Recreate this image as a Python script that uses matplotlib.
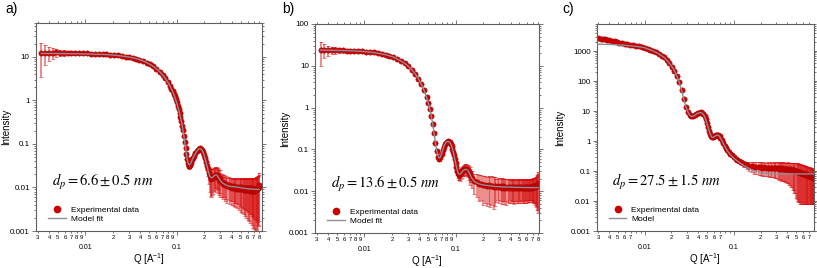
import numpy as np
import matplotlib
matplotlib.use("Agg")
import matplotlib.pyplot as plt
from matplotlib.ticker import LogLocator, FuncFormatter, NullFormatter
from matplotlib.lines import Line2D

plt.rcParams['font.family'] = ['Liberation Sans', 'DejaVu Sans']
plt.rcParams['mathtext.fontset'] = 'stix'

# ---------------- Panel a ----------------
q_a = [0.0033, 0.0036, 0.0040, 0.0044, 0.0048, 0.0053, 0.0058, 0.0064, 0.0070, 0.0077,
       0.0085, 0.0094, 0.0104, 0.0115, 0.0127, 0.0140, 0.0155, 0.0170, 0.0188, 0.0207,
       0.0228, 0.0250, 0.0275, 0.0300, 0.0330, 0.0360, 0.0390, 0.0430, 0.0470, 0.0510,
       0.0550, 0.0600, 0.0650, 0.0700, 0.0750, 0.0800, 0.0850,
       0.0875, 0.0900, 0.0925, 0.0950, 0.0975, 0.1000, 0.1025, 0.1050, 0.1075, 0.1100,
       0.1125, 0.1150, 0.1175, 0.1200, 0.1225, 0.1250, 0.1275, 0.1300, 0.1325, 0.1350,
       0.1375, 0.1400, 0.1425, 0.1450, 0.1475, 0.1500,
       0.155, 0.160, 0.165, 0.170, 0.175, 0.180, 0.185, 0.190, 0.195, 0.200,
       0.205, 0.210, 0.215, 0.220, 0.225, 0.230, 0.235, 0.240, 0.245, 0.250,
       0.255, 0.260, 0.265, 0.270, 0.275, 0.280, 0.285, 0.290, 0.295, 0.300,
       0.31, 0.32, 0.33, 0.34, 0.35, 0.36, 0.37, 0.38, 0.39, 0.40,
       0.41, 0.42, 0.43, 0.44, 0.45, 0.46, 0.47, 0.48, 0.49, 0.50,
       0.51, 0.52, 0.53, 0.54, 0.55, 0.56, 0.57, 0.58, 0.59, 0.60,
       0.61, 0.62, 0.63, 0.64, 0.65, 0.66, 0.67, 0.68, 0.69, 0.70,
       0.71, 0.72, 0.73, 0.74, 0.75, 0.76, 0.77, 0.78, 0.79, 0.80]
I_a = [12.0, 12.4, 12.6, 12.5, 12.7, 12.6, 12.5, 12.4, 12.4, 12.3,
       12.2, 12.1, 12.0, 11.9, 11.8, 11.7, 11.5, 11.4, 11.2, 11.0,
       10.8, 10.5, 10.2, 9.9, 9.5, 9.1, 8.7, 8.1, 7.4, 6.7,
       6.1, 5.35, 4.6, 3.9, 3.25, 2.65, 2.1,
       1.86, 1.64, 1.43, 1.24, 1.06, 0.90, 0.76, 0.63, 0.52, 0.42,
       0.335, 0.265, 0.205, 0.155, 0.112, 0.080, 0.058, 0.044, 0.036, 0.032,
       0.031, 0.033, 0.036, 0.040, 0.044, 0.048,
       0.054, 0.061, 0.068, 0.074, 0.078, 0.079, 0.077, 0.072, 0.065, 0.056,
       0.047, 0.039, 0.032, 0.026, 0.021, 0.0180, 0.0165, 0.0160, 0.0168, 0.0172,
       0.0185, 0.0178, 0.0195, 0.0186, 0.0198, 0.0176, 0.0180, 0.0158, 0.0165, 0.0140,
       0.0132, 0.0122, 0.0125, 0.0112, 0.0118, 0.0106, 0.0112, 0.0101, 0.0109, 0.0099,
       0.0108, 0.0097, 0.0105, 0.0096, 0.0104, 0.0094, 0.0103, 0.0092, 0.0101, 0.0091,
       0.0100, 0.0090, 0.0099, 0.0089, 0.0098, 0.0088, 0.0097, 0.0087, 0.0097, 0.0086,
       0.0096, 0.0086, 0.0095, 0.0085, 0.0095, 0.0085, 0.0094, 0.0084, 0.0094, 0.0084,
       0.0093, 0.0085, 0.0094, 0.0087, 0.0096, 0.0090, 0.0099, 0.0095, 0.0105, 0.0115]
err_a = [8.5, 6.0, 4.5, 3.5, 2.8, 2.2, 1.8, 1.4, 1.1, 0.9,
         0.7, 0.55, 0.45, 0.35, 0.3, 0.25, 0.2, 0.18, 0.15, 0.13,
         0.1, 0.09, 0.08, 0.07, 0.06, 0.05, 0.05, 0.04, 0.04, 0.03,
         0.03, 0.03, 0.025, 0.02, 0.02, 0.02, 0.015,
         0.015, 0.012, 0.011, 0.01, 0.009, 0.008, 0.007, 0.006, 0.005, 0.005,
         0.004, 0.004, 0.004, 0.004, 0.004, 0.004, 0.004, 0.004, 0.004, 0.004,
         0.004, 0.004, 0.004, 0.004, 0.004, 0.004,
         0.004, 0.004, 0.004, 0.005, 0.005, 0.005, 0.005, 0.005, 0.005, 0.005,
         0.005, 0.006, 0.007, 0.008, 0.009, 0.010, 0.010, 0.010, 0.010, 0.010,
         0.010, 0.010, 0.010, 0.010, 0.010, 0.010, 0.009, 0.009, 0.009, 0.008,
         0.0070, 0.0068, 0.0066, 0.0064, 0.0063, 0.0062, 0.0061, 0.0060, 0.0060, 0.0060,
         0.0060, 0.0060, 0.0060, 0.0060, 0.0061, 0.0061, 0.0062, 0.0062, 0.0063, 0.0063,
         0.0064, 0.0064, 0.0065, 0.0065, 0.0066, 0.0066, 0.0067, 0.0067, 0.0068, 0.0068,
         0.0069, 0.0069, 0.0070, 0.0070, 0.0071, 0.0071, 0.0072, 0.0072, 0.0073, 0.0073,
         0.0074, 0.0075, 0.0076, 0.0078, 0.0080, 0.0082, 0.0085, 0.0088, 0.0092, 0.0098]
model_a = [12.0, 12.0, 12.0, 12.0, 11.95, 11.95, 11.9, 11.9, 11.85, 11.85,
           11.8, 11.75, 11.7, 11.65, 11.6, 11.5, 11.4, 11.3, 11.14, 10.96,
           10.75, 10.5, 10.2, 9.92, 9.53, 9.13, 8.7, 8.1, 7.4, 6.74,
           6.13, 5.35, 4.6, 3.89, 3.23, 2.63, 2.10,
           1.85, 1.63, 1.42, 1.23, 1.05, 0.894, 0.75, 0.624, 0.512, 0.414,
           0.33, 0.26, 0.20, 0.15, 0.11, 0.08, 0.06, 0.046, 0.038, 0.034,
           0.033, 0.034, 0.036, 0.039, 0.043, 0.047,
           0.053, 0.060, 0.067, 0.073, 0.077, 0.078, 0.076, 0.071, 0.064, 0.055,
           0.046, 0.038, 0.031, 0.025, 0.021, 0.0185, 0.0172, 0.0168, 0.0170, 0.0176,
           0.0183, 0.0189, 0.0193, 0.0194, 0.0191, 0.0184, 0.0174, 0.0163, 0.0153, 0.0145,
           0.0135, 0.0126, 0.0121, 0.0116, 0.0113, 0.0110, 0.0108, 0.0107, 0.0106, 0.0105,
           0.0104, 0.0104, 0.0103, 0.0103, 0.0102, 0.0102, 0.0101, 0.0100, 0.0099, 0.0098,
           0.0098, 0.0097, 0.0097, 0.0096, 0.0096, 0.0095, 0.0095, 0.0094, 0.0094, 0.0094,
           0.0093, 0.0093, 0.0093, 0.0093, 0.0092, 0.0092, 0.0092, 0.0092, 0.0092, 0.0092,
           0.0091, 0.0091, 0.0091, 0.0091, 0.0091, 0.0091, 0.0091, 0.0090, 0.0090, 0.0090]

# ---------------- Panel b ----------------
q_b = [0.0033, 0.0036, 0.0040, 0.0044, 0.0048, 0.0053, 0.0058, 0.0064, 0.0070, 0.0077,
       0.0085, 0.0094, 0.0104, 0.0115, 0.0127, 0.0140, 0.0155, 0.0170, 0.0188, 0.0207,
       0.0228, 0.0250, 0.0275, 0.0300, 0.0330, 0.0360, 0.0390, 0.0420, 0.0450, 0.0480, 0.0500,
       0.052, 0.054, 0.056, 0.058, 0.060, 0.062, 0.064, 0.066, 0.068, 0.070,
       0.072, 0.074, 0.076, 0.078, 0.080, 0.082, 0.084, 0.086, 0.088, 0.090,
       0.092, 0.094, 0.096, 0.098, 0.100, 0.102, 0.104, 0.106, 0.108, 0.110,
       0.112, 0.115, 0.118, 0.121, 0.124, 0.127, 0.130, 0.133, 0.136, 0.139, 0.142, 0.145,
       0.15, 0.16, 0.17, 0.18, 0.19, 0.20, 0.21, 0.22, 0.23, 0.24, 0.25, 0.26, 0.27,
       0.28, 0.29, 0.30, 0.31, 0.32, 0.33, 0.34, 0.35, 0.36, 0.37,
       0.38, 0.39, 0.40, 0.41, 0.42, 0.43, 0.44, 0.45, 0.46, 0.47,
       0.48, 0.49, 0.50, 0.51, 0.52, 0.53, 0.54, 0.55, 0.56, 0.57,
       0.58, 0.59, 0.60, 0.61, 0.62, 0.63, 0.64, 0.65, 0.66, 0.67,
       0.68, 0.69, 0.70, 0.71, 0.72, 0.73, 0.74, 0.75, 0.76, 0.77,
       0.78, 0.79, 0.80]
I_b = [24.0, 24.5, 23.8, 23.9, 23.6, 23.4, 23.3, 23.2, 23.0, 22.8,
       22.5, 22.2, 21.8, 21.3, 20.8, 20.1, 19.3, 18.4, 17.4, 16.2,
       14.6, 13.1, 11.5, 9.9, 8.1, 6.4, 4.9, 3.65, 2.6, 1.75, 1.29,
       0.93, 0.64, 0.41, 0.245, 0.142, 0.090, 0.066, 0.060, 0.065, 0.079,
       0.097, 0.117, 0.134, 0.146, 0.153, 0.156, 0.154, 0.148, 0.137, 0.122,
       0.105, 0.088, 0.072, 0.058, 0.047, 0.037, 0.031, 0.027, 0.025, 0.0248,
       0.026, 0.0275, 0.0297, 0.0318, 0.0332, 0.0345, 0.034, 0.0328, 0.0315, 0.029, 0.027, 0.0238,
       0.021, 0.0175, 0.0162, 0.0148, 0.0150, 0.0138, 0.0143, 0.0134, 0.0140, 0.0131, 0.0136, 0.0128, 0.0134,
       0.0127, 0.0133, 0.0124, 0.0131, 0.0122, 0.0130, 0.0121, 0.0129, 0.0120, 0.0128,
       0.0121, 0.0128, 0.0119, 0.0127, 0.0120, 0.0127, 0.0118, 0.0126, 0.0119, 0.0126,
       0.0118, 0.0126, 0.0119, 0.0125, 0.0118, 0.0125, 0.0119, 0.0126, 0.0118, 0.0125,
       0.0119, 0.0126, 0.0119, 0.0126, 0.0120, 0.0127, 0.0120, 0.0127, 0.0121, 0.0128,
       0.0122, 0.0129, 0.0123, 0.0130, 0.0125, 0.0132, 0.0128, 0.0135, 0.0132, 0.0140,
       0.0140, 0.0150, 0.0160]
err_b = [14.0, 9.0, 6.5, 5.0, 4.0, 3.2, 2.6, 2.0, 1.6, 1.3,
         1.0, 0.8, 0.65, 0.5, 0.4, 0.35, 0.3, 0.25, 0.2, 0.18,
         0.15, 0.12, 0.1, 0.08, 0.07, 0.06, 0.05, 0.04, 0.035, 0.03, 0.025,
         0.02, 0.016, 0.012, 0.01, 0.008, 0.007, 0.006, 0.006, 0.006, 0.006,
         0.006, 0.006, 0.006, 0.006, 0.006, 0.006, 0.006, 0.006, 0.006, 0.006,
         0.006, 0.006, 0.006, 0.006, 0.006, 0.006, 0.006, 0.006, 0.006, 0.006,
         0.008, 0.008, 0.009, 0.009, 0.010, 0.010, 0.010, 0.010, 0.010, 0.010, 0.010, 0.010,
         0.009, 0.009, 0.009, 0.009, 0.009, 0.009, 0.009, 0.009, 0.009, 0.009, 0.009, 0.009, 0.009,
         0.0072, 0.0072, 0.0072, 0.0072, 0.0072, 0.0072, 0.0072, 0.0072, 0.0072, 0.0072,
         0.0068, 0.0068, 0.0068, 0.0068, 0.0068, 0.0068, 0.0068, 0.0068, 0.0068, 0.0068,
         0.0066, 0.0066, 0.0066, 0.0066, 0.0066, 0.0066, 0.0066, 0.0066, 0.0066, 0.0066,
         0.0066, 0.0066, 0.0066, 0.0066, 0.0066, 0.0066, 0.0066, 0.0066, 0.0066, 0.0066,
         0.0068, 0.0069, 0.0070, 0.0072, 0.0074, 0.0077, 0.0080, 0.0084, 0.0090, 0.0096,
         0.0104, 0.0115, 0.0130]
model_b = [23.8, 23.7, 23.6, 23.6, 23.5, 23.4, 23.3, 23.1, 22.9, 22.7,
           22.4, 22.1, 21.7, 21.2, 20.7, 20.0, 19.2, 18.4, 17.3, 16.2,
           14.6, 13.1, 11.5, 9.9, 8.05, 6.4, 4.9, 3.63, 2.58, 1.74, 1.28,
           0.92, 0.63, 0.40, 0.24, 0.14, 0.092, 0.070, 0.062, 0.066, 0.080,
           0.098, 0.117, 0.133, 0.145, 0.152, 0.155, 0.153, 0.147, 0.136, 0.121,
           0.104, 0.087, 0.071, 0.058, 0.047, 0.038, 0.032, 0.028, 0.026, 0.0255,
           0.0258, 0.027, 0.0292, 0.031, 0.0325, 0.0333, 0.0333, 0.0325, 0.031, 0.029, 0.0265, 0.024,
           0.0205, 0.0172, 0.0158, 0.015, 0.0145, 0.0141, 0.0139, 0.0137, 0.0135, 0.0134, 0.0133, 0.0131, 0.0130,
           0.0129, 0.0129, 0.0128, 0.0128, 0.0127, 0.0127, 0.0127, 0.0126, 0.0126, 0.0126,
           0.0125, 0.0125, 0.0125, 0.0125, 0.0124, 0.0124, 0.0124, 0.0124, 0.0124, 0.0123,
           0.0123, 0.0123, 0.0123, 0.0123, 0.0123, 0.0123, 0.0123, 0.0123, 0.0122, 0.0122,
           0.0122, 0.0122, 0.0122, 0.0122, 0.0122, 0.0122, 0.0122, 0.0122, 0.0122, 0.0122,
           0.0122, 0.0122, 0.0122, 0.0122, 0.0122, 0.0122, 0.0122, 0.0122, 0.0122, 0.0122,
           0.0122, 0.0122, 0.0122]

# ---------------- Panel c ----------------
q_c = [0.0030, 0.0032, 0.0034, 0.0036, 0.0038, 0.0040, 0.0043, 0.0046, 0.0049, 0.0052,
       0.0056, 0.0060, 0.0064, 0.0069, 0.0074, 0.0080, 0.0086, 0.0093, 0.0100,
       0.0108, 0.0116, 0.0125, 0.0135, 0.0145, 0.0155, 0.0166, 0.0178, 0.0190, 0.0203,
       0.0216, 0.0230, 0.0245, 0.0260, 0.0275, 0.0290, 0.0305, 0.0320, 0.0335, 0.0350,
       0.0365, 0.0380, 0.0395, 0.0410, 0.0425, 0.0440, 0.0455, 0.0470, 0.0485, 0.0500,
       0.0515, 0.0530, 0.0545, 0.0560, 0.0575, 0.0590, 0.0605, 0.0620, 0.0635, 0.0650,
       0.0665, 0.0680, 0.0695, 0.0710,
       0.0735, 0.076, 0.079, 0.082, 0.085, 0.088, 0.091, 0.095, 0.100, 0.105,
       0.110, 0.115, 0.120, 0.130, 0.140, 0.150,
       0.16, 0.17, 0.18, 0.19, 0.20, 0.21, 0.22, 0.23, 0.24, 0.25, 0.26, 0.27, 0.28, 0.29, 0.30,
       0.31, 0.32, 0.33, 0.34, 0.35, 0.36, 0.37, 0.38, 0.39, 0.40,
       0.41, 0.42, 0.43, 0.44, 0.45, 0.46, 0.47, 0.48, 0.49, 0.50,
       0.51, 0.52, 0.53, 0.54, 0.55, 0.56, 0.57, 0.58, 0.59, 0.60,
       0.61, 0.62, 0.63, 0.64, 0.65, 0.66, 0.67, 0.68, 0.69, 0.70,
       0.71, 0.72, 0.73, 0.74, 0.75, 0.76, 0.77, 0.78, 0.79, 0.80]
I_c = [2700, 2620, 2540, 2460, 2380, 2300, 2200, 2100, 2010, 1930,
       1840, 1760, 1690, 1620, 1560, 1500, 1440, 1370, 1310,
       1200, 1105, 1005, 905, 805, 705, 615, 495, 395, 302,
       222, 150, 91, 50, 25.5, 14.2, 9.6, 7.4, 6.6, 6.8,
       7.3, 8.0, 8.6, 8.9, 9.0, 8.7, 7.9, 6.7, 5.3, 4.0,
       2.95, 2.2, 1.72, 1.45, 1.34, 1.35, 1.42, 1.5, 1.56, 1.59,
       1.58, 1.53, 1.44, 1.3,
       1.08, 0.88, 0.71, 0.59, 0.50, 0.43, 0.38, 0.33, 0.29, 0.26,
       0.235, 0.215, 0.20, 0.175, 0.16, 0.15,
       0.145, 0.14, 0.138, 0.135, 0.133, 0.13, 0.132, 0.128, 0.131, 0.127, 0.13, 0.126, 0.128, 0.124, 0.126,
       0.125, 0.121, 0.124, 0.119, 0.122, 0.117, 0.120, 0.115, 0.118, 0.113,
       0.116, 0.111, 0.113, 0.108, 0.110, 0.105, 0.107, 0.102, 0.103, 0.098,
       0.099, 0.094, 0.095, 0.090, 0.091, 0.087, 0.088, 0.084, 0.085, 0.081,
       0.082, 0.078, 0.079, 0.075, 0.077, 0.073, 0.074, 0.071, 0.072, 0.069,
       0.070, 0.067, 0.068, 0.065, 0.066, 0.063, 0.064, 0.061, 0.062, 0.060]
err_c = [30, 28, 26, 25, 24, 23, 22, 21, 20, 19,
         18, 17, 16, 15, 14, 14, 13, 13, 12,
         12, 11, 10, 9, 8, 7, 6, 5, 4, 3,
         2.5, 2, 1.5, 1, 0.6, 0.4, 0.3, 0.25, 0.2, 0.2,
         0.2, 0.2, 0.2, 0.2, 0.2, 0.2, 0.2, 0.2, 0.15, 0.12,
         0.1, 0.08, 0.06, 0.05, 0.05, 0.05, 0.05, 0.05, 0.05, 0.05,
         0.05, 0.05, 0.05, 0.05,
         0.04, 0.035, 0.03, 0.03, 0.025, 0.025, 0.025, 0.025, 0.025, 0.03,
         0.03, 0.03, 0.035, 0.04, 0.045, 0.05,
         0.055, 0.06, 0.06, 0.06, 0.06, 0.062, 0.062, 0.062, 0.064, 0.064, 0.065, 0.065, 0.066, 0.066, 0.068,
         0.070, 0.070, 0.071, 0.071, 0.072, 0.072, 0.073, 0.073, 0.074, 0.074,
         0.077, 0.077, 0.079, 0.079, 0.081, 0.081, 0.083, 0.083, 0.085, 0.085,
         0.087, 0.084, 0.086, 0.081, 0.083, 0.078, 0.080, 0.075, 0.077, 0.073,
         0.074, 0.070, 0.071, 0.067, 0.069, 0.065, 0.066, 0.063, 0.064, 0.061,
         0.062, 0.059, 0.060, 0.057, 0.058, 0.055, 0.056, 0.053, 0.054, 0.052]
model_c = [1700, 1695, 1688, 1680, 1672, 1665, 1650, 1637, 1622, 1606,
           1585, 1562, 1535, 1505, 1475, 1435, 1395, 1345, 1295,
           1190, 1100, 1000, 900, 800, 700, 610, 490, 390, 300,
           220, 150, 90, 50, 25, 14, 9.5, 7.3, 6.6, 6.7,
           7.2, 7.9, 8.5, 8.8, 8.9, 8.6, 7.8, 6.6, 5.2, 3.9,
           2.9, 2.15, 1.7, 1.42, 1.32, 1.33, 1.40, 1.48, 1.54, 1.57,
           1.56, 1.52, 1.42, 1.28,
           1.05, 0.85, 0.68, 0.56, 0.47, 0.41, 0.36, 0.31, 0.27, 0.24,
           0.215, 0.195, 0.178, 0.152, 0.133, 0.12,
           0.11, 0.103, 0.097, 0.093, 0.090, 0.088, 0.086, 0.084, 0.083, 0.082, 0.081, 0.081, 0.080, 0.080, 0.080,
           0.080, 0.080, 0.080, 0.080, 0.080, 0.080, 0.080, 0.080, 0.080, 0.080,
           0.080, 0.080, 0.080, 0.080, 0.080, 0.080, 0.080, 0.080, 0.080, 0.080,
           0.080, 0.080, 0.080, 0.080, 0.080, 0.080, 0.080, 0.080, 0.080, 0.080,
           0.080, 0.080, 0.080, 0.080, 0.080, 0.080, 0.080, 0.080, 0.080, 0.080,
           0.080, 0.080, 0.080, 0.080, 0.080, 0.080, 0.080, 0.080, 0.080, 0.080]

panels = [
    dict(q=q_a, I=I_a, err=err_a, model=model_a, xlim=(0.00288, 0.86), ylim=(0.001, 60),
         label='a)', text=r'$d_p = 6.6 \pm 0.5\ nm$', model_label='Model fit',
         pos=[0.0441, 0.138, 0.2766, 0.776], subs_lab=(2, 3, 4, 5, 6, 7, 8, 9),
         ylab_x=-0.108, xlab_y=-0.098),
    dict(q=q_b, I=I_b, err=err_b, model=model_b, xlim=(0.00287, 0.82), ylim=(0.001, 100),
         label='b)', text=r'$d_p = 13.6 \pm 0.5\ nm$', model_label='Model fit',
         pos=[0.3856, 0.1306, 0.2742, 0.7799], subs_lab=(2, 3, 4, 5, 6, 7, 8, 9),
         ylab_x=-0.113, xlab_y=-0.098),
    dict(q=q_c, I=I_c, err=err_c, model=model_c, xlim=(0.00292, 0.795), ylim=(0.001, 8000),
         label='c)', text=r'$d_p = 27.5 \pm 1.5\ nm$', model_label='Model',
         pos=[0.7307, 0.138, 0.2656, 0.7724], subs_lab=(2, 3, 4, 5, 6, 7),
         ylab_x=-0.148, xlab_y=-0.100),
]
label_x = [0.006, 0.345, 0.688]

red = '#cc0000'
ecol = (0.84, 0.04, 0.04, 0.55)
gray = '#8e8e98'
spine = '#606060'

fig = plt.figure(figsize=(8.17, 2.68), dpi=100)

for k, p in enumerate(panels):
    ax = fig.add_axes(p['pos'])
    q = np.array(p['q']); I = np.array(p['I']); e = np.array(p['err'])
    ax.errorbar(q, I, yerr=e, fmt='none', ecolor=ecol, elinewidth=1.2,
                capsize=1.6, capthick=0.7, zorder=1)
    ax.plot(q, I, 'o', ms=3.8, mfc=red, mec='#b00000', mew=0.4, zorder=2)
    ax.plot(q, p['model'], '-', color=gray, lw=1.0, zorder=3)
    ax.set_xscale('log'); ax.set_yscale('log')
    ax.set_xlim(*p['xlim']); ax.set_ylim(*p['ylim'])

    for s in ax.spines.values():
        s.set_color(spine); s.set_linewidth(0.8)

    ax.xaxis.set_major_locator(LogLocator(base=10, numticks=10))
    ax.xaxis.set_minor_locator(LogLocator(base=10, subs=np.arange(2, 10), numticks=20))
    ax.yaxis.set_major_locator(LogLocator(base=10, numticks=12))
    ax.yaxis.set_minor_locator(LogLocator(base=10, subs=np.arange(2, 10), numticks=30))

    ax.xaxis.set_major_formatter(FuncFormatter(lambda v, pos: '%g' % v))
    subs = p['subs_lab']
    def minfmt(v, pos, subs=subs):
        m = int(round(v / 10 ** np.floor(np.log10(v) + 1e-9)))
        return str(m) if m in subs else ''
    ax.xaxis.set_minor_formatter(FuncFormatter(minfmt))
    ax.yaxis.set_major_formatter(FuncFormatter(lambda v, pos: '%g' % v))
    ax.yaxis.set_minor_formatter(NullFormatter())

    ax.tick_params(which='both', direction='out', top=True, right=True,
                   color=spine, width=0.6)
    ax.tick_params(which='major', length=3.0)
    ax.tick_params(which='minor', length=1.6)
    ax.tick_params(axis='x', which='major', labelsize=5, pad=6.5)
    ax.tick_params(axis='x', which='minor', labelsize=4.2, pad=1.2)
    ax.tick_params(axis='y', which='major', labelsize=5.8, pad=1.5)

    ax.set_ylabel('Intensity', fontsize=7)
    ax.yaxis.set_label_coords(p['ylab_x'], 0.5)
    ax.set_xlabel(r'Q [A$^{\mathregular{-1}}$]', fontsize=7)
    ax.xaxis.set_label_coords(0.5, p['xlab_y'])

    ax.text(0.07, 0.235, p['text'], transform=ax.transAxes, fontsize=10.5,
            ha='left', va='center')

    handles = [Line2D([], [], marker='o', ls='none', color=red, ms=4.5),
               Line2D([], [], color=gray, lw=1.0)]
    ax.legend(handles, ['Experimental data', p['model_label']], loc='lower left',
              bbox_to_anchor=(0.055, 0.04), frameon=False, fontsize=6,
              handlelength=2.1, handletextpad=0.6, labelspacing=0.15, borderpad=0,
              borderaxespad=0)

    fig.text(label_x[k], 0.965, p['label'], fontsize=10, ha='left', va='center')

fig.savefig('out.png', dpi=100)
